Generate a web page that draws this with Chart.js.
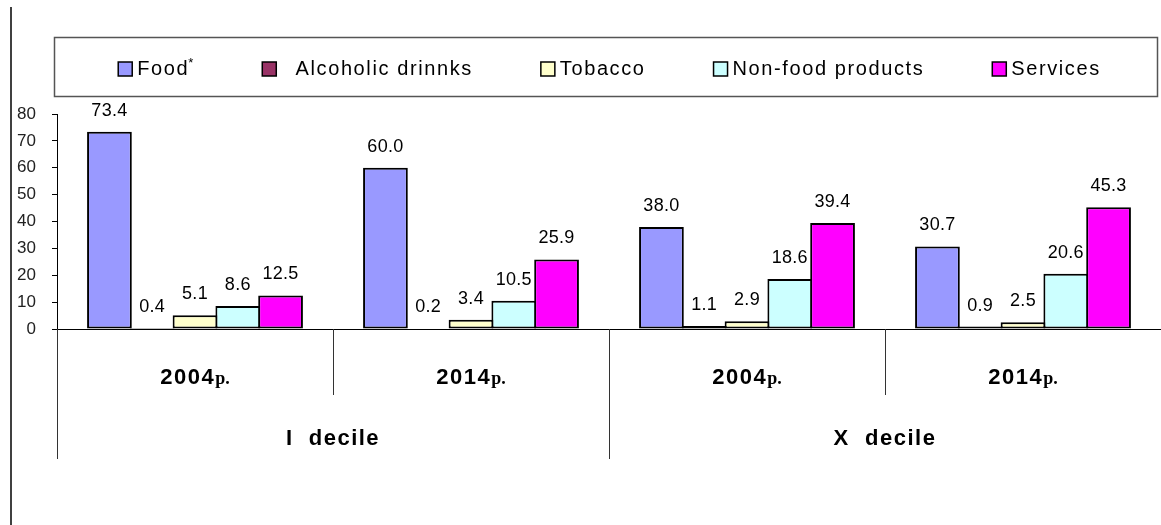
<!DOCTYPE html>
<html>
<head>
<meta charset="utf-8">
<script src="https://cdn.jsdelivr.net/npm/chart.js@4.4.0/dist/chart.umd.min.js"></script>
<style>
  body { margin: 0; background: #fff; }
</style>
</head>
<body>
<canvas id="graficoGastos" width="1161" height="525"></canvas>
<script>
// categories: survey year inside each decile group
let years = ['2004', '2014', '2004', '2014']
let yearSuffix = 'p.'
let deciles = ['I  decile', 'X  decile']

// share of spending, %
let food = [73.4, 60.0, 38.0, 30.7]
let alcohol = [0.4, 0.2, 1.1, 0.9]
let tobacco = [5.1, 3.4, 2.9, 2.5]
let nonFood = [8.6, 10.5, 18.6, 20.6]
let services = [12.5, 25.9, 39.4, 45.3]

let seriesNames = ['Food*', '  Alcoholic drinnks', 'Tobacco', 'Non-food products', 'Services']
let seriesColors = ['#9999FF', '#993366', '#FFFFCC', '#CCFFFF', '#FF00FF']

let yTicks = { min: 0, max: 80, step: 10 }

const fontSans = '"Liberation Sans", Arial, sans-serif'
const fontSerif = '"Liberation Serif", "Times New Roman", serif'

// white page and the thin border line on the left
const pagina = {
  id: 'pagina',
  beforeDraw(chart) {
    const ctx = chart.ctx
    ctx.save()
    ctx.fillStyle = '#fff'
    ctx.fillRect(0, 0, chart.width, chart.height)
    ctx.strokeStyle = '#000'
    ctx.lineWidth = 1.5
    ctx.beginPath()
    ctx.moveTo(11, 7)
    ctx.lineTo(11, chart.height)
    ctx.stroke()
    ctx.restore()
  }
}

// legend in a framed box, one row
const leyenda = {
  id: 'leyenda',
  afterDraw(chart) {
    const ctx = chart.ctx
    const box = { x: 54.5, y: 37.5, w: 1103, h: 59 }
    const midY = box.y + box.h / 2 + 2
    const gap = 67
    const labelFont = '20px ' + fontSans
    const spacing = '1.6px'
    ctx.save()
    ctx.strokeStyle = '#555'
    ctx.lineWidth = 1.5
    ctx.strokeRect(box.x, box.y, box.w, box.h)

    ctx.textBaseline = 'middle'
    ctx.textAlign = 'left'
    ctx.fillStyle = '#000'

    const measure = (name) => {
      ctx.font = labelFont
      ctx.letterSpacing = spacing
      let text = name.replace('*', '')
      let w = ctx.measureText(text).width
      if (name.endsWith('*')) {
        ctx.font = '13px ' + fontSans
        ctx.letterSpacing = '0px'
        w += ctx.measureText('*').width
      }
      return 20 + w
    }

    const sets = chart.data.datasets
    const widths = sets.map(ds => measure(ds.label))
    const total = widths.reduce((a, b) => a + b, 0) + gap * (sets.length - 1)
    let x = box.x + box.w / 2 + 4 - total / 2

    sets.forEach((ds, i) => {
      ctx.fillStyle = ds.backgroundColor
      ctx.fillRect(x, midY - 7, 14, 14)
      ctx.strokeStyle = '#000'
      ctx.lineWidth = 1.5
      ctx.strokeRect(x, midY - 7, 14, 14)

      ctx.fillStyle = '#000'
      ctx.font = labelFont
      ctx.letterSpacing = spacing
      let text = ds.label.replace('*', '')
      ctx.fillText(text, x + 19, midY)
      if (ds.label.endsWith('*')) {
        let tw = ctx.measureText(text).width
        ctx.font = '13px ' + fontSans
        ctx.letterSpacing = '0px'
        ctx.fillText('*', x + 19 + tw - 1, midY - 6)
      }
      x += widths[i] + gap
    })
    ctx.restore()
  }
}

// value over every bar
const valores = {
  id: 'valores',
  afterDatasetsDraw(chart) {
    const ctx = chart.ctx
    ctx.save()
    ctx.font = '18px ' + fontSans
    ctx.letterSpacing = '0.3px'
    ctx.fillStyle = '#000'
    ctx.textAlign = 'center'
    ctx.textBaseline = 'middle'
    chart.data.datasets.forEach((ds, i) => {
      chart.getDatasetMeta(i).data.forEach((bar, j) => {
        ctx.fillText(ds.data[j].toFixed(1), bar.x, bar.y - 21)
      })
    })
    ctx.restore()
  }
}

// two-level category axis: years, then deciles
const ejeX = {
  id: 'ejeX',
  afterDraw(chart) {
    const ctx = chart.ctx
    const x = chart.scales.x
    const area = chart.chartArea
    const paso = x.width / years.length
    const yearFont = 'bold 22px ' + fontSans
    const suffixFont = 'bold 18px ' + fontSerif
    ctx.save()

    ctx.strokeStyle = '#333'
    ctx.lineWidth = 1
    for (let i = 0; i <= years.length; i += 2) {
      const px = Math.round(x.left + i * paso) + 0.5
      ctx.beginPath()
      ctx.moveTo(px, area.bottom)
      ctx.lineTo(px, area.bottom + 130)
      ctx.stroke()
    }

    ctx.fillStyle = '#000'
    ctx.textAlign = 'left'
    ctx.textBaseline = 'alphabetic'
    years.forEach((y, i) => {
      const cx = x.getPixelForValue(i)
      ctx.font = yearFont
      ctx.letterSpacing = '1.5px'
      const w1 = ctx.measureText(y).width
      ctx.font = suffixFont
      ctx.letterSpacing = '0px'
      const w2 = ctx.measureText(yearSuffix).width
      const sx = cx - (w1 + w2) / 2
      ctx.font = yearFont
      ctx.letterSpacing = '1.5px'
      ctx.fillText(y, sx, area.bottom + 55)
      ctx.font = suffixFont
      ctx.letterSpacing = '0px'
      ctx.fillText(yearSuffix, sx + w1, area.bottom + 55)
    })

    ctx.textAlign = 'center'
    ctx.font = yearFont
    ctx.letterSpacing = '1.5px'
    deciles.forEach((d, g) => {
      const cx = x.left + (g * 2 + 1) * paso
      ctx.fillText(d, cx, area.bottom + 116)
    })
    ctx.restore()
  }
}

const series = [food, alcohol, tobacco, nonFood, services]

let grafico = new Chart(document.getElementById('graficoGastos'), {
  type: 'bar',
  data: {
    labels: years,
    datasets: series.map((values, i) => ({
      label: seriesNames[i],
      data: values,
      backgroundColor: seriesColors[i],
      borderColor: '#000',
      borderWidth: 2,
      borderSkipped: false,
      categoryPercentage: 0.775,
      barPercentage: 1.046
    }))
  },
  options: {
    responsive: false,
    animation: false,
    devicePixelRatio: 1,
    layout: { padding: { top: 114, right: -6, bottom: 130, left: 0 } },
    plugins: {
      legend: { display: false },
      tooltip: { enabled: false }
    },
    scales: {
      x: {
        grid: { offset: true, drawOnChartArea: false, tickLength: 66, color: '#333' },
        border: { color: '#000' },
        ticks: { display: false }
      },
      y: {
        min: yTicks.min,
        max: yTicks.max,
        ticks: {
          stepSize: yTicks.step,
          padding: 16,
          color: '#222',
          font: { size: 17, family: fontSans }
        },
        grid: { drawOnChartArea: false, tickLength: 5, color: '#000' },
        border: { color: '#000' },
        afterFit(scale) { scale.width = 57 }
      }
    }
  },
  plugins: [pagina, leyenda, valores, ejeX]
})
</script>
</body>
</html>
